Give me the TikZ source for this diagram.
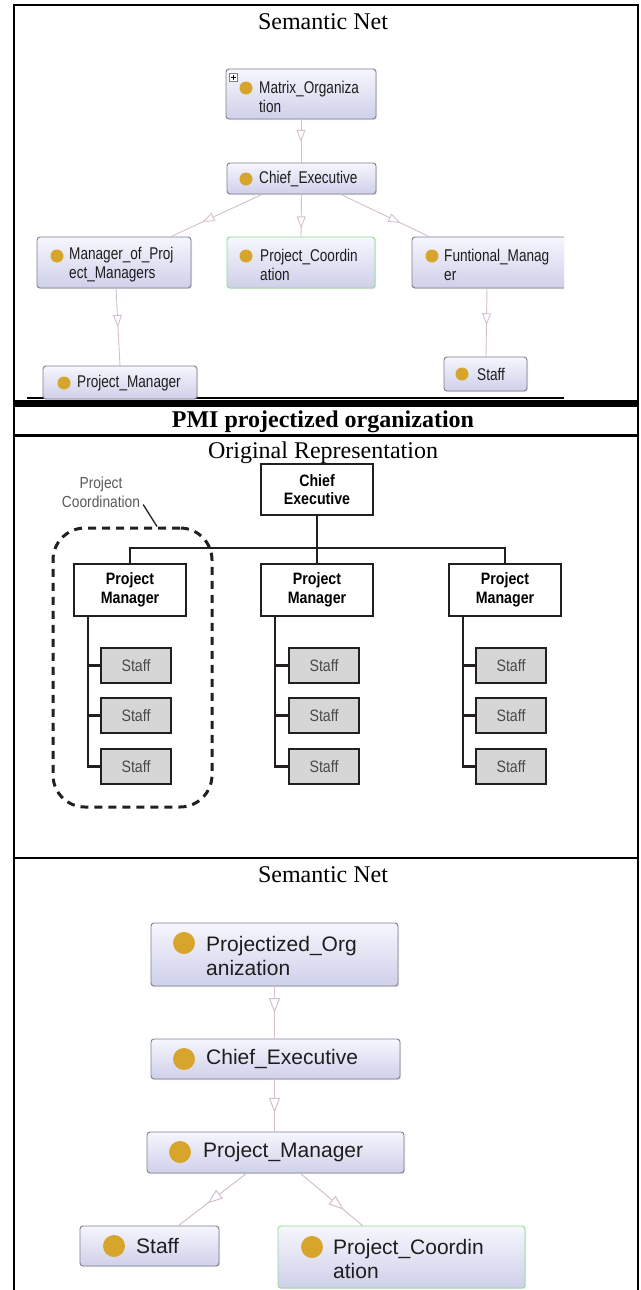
\documentclass[tikz,border=0pt]{standalone}
\usepackage{fontspec}
\setmainfont{Liberation Serif}
\newfontfamily\semsmall[FakeStretch=0.8]{Liberation Sans}
\newfontfamily\semlarge{Liberation Sans}
\newfontfamily\orgsans[FakeStretch=0.86]{Liberation Sans}
\usetikzlibrary{arrows.meta,decorations.markings,calc,shadows}

\definecolor{nodetop}{HTML}{F6F6FD}
\definecolor{nodebot}{HTML}{CFD0EA}
\definecolor{nodeedge}{HTML}{7E7E8E}
\definecolor{greenedge}{HTML}{8FDC8F}
\definecolor{dotc}{HTML}{D8A52C}
\definecolor{linkc}{HTML}{D3BFD0}
\definecolor{orgline}{HTML}{231F20}
\definecolor{staffgray}{HTML}{D6D6D6}
\definecolor{stafftext}{HTML}{4A4A4A}
\definecolor{labelgray}{HTML}{5A5A5A}
\definecolor{semtext}{HTML}{1E1E1E}

\tikzset{
  sembox/.style={rectangle, rounded corners=3pt, draw=nodeedge, line width=0.9pt,
    top color=nodetop, bottom color=nodebot, inner sep=0pt, outer sep=0pt,
    anchor=north west,
    drop shadow={shadow xshift=1pt, shadow yshift=-1.2pt, opacity=0.2}},
  greenbox/.style={draw=greenedge},
  semdot/.style={circle, fill=dotc, inner sep=0pt, outer sep=0pt},
  semtxtS/.style={anchor=west, inner sep=0pt, align=left, text=semtext,
    font=\semsmall\fontsize{17}{19}\selectfont},
  semtxtL/.style={anchor=west, inner sep=0pt, align=left, text=semtext,
    font=\semlarge\fontsize{21}{24}\selectfont},
  isa/.style={draw=linkc, line width=0.9pt, postaction={decorate},
    decoration={markings, mark=at position #1 with
      {\arrow{Triangle[length=12pt, width=9pt, line width=0.9pt, color=linkc, fill=white]}}}},
  isa/.default=0.5,
  isaL/.style={draw=linkc, line width=1pt, postaction={decorate},
    decoration={markings, mark=at position #1 with
      {\arrow{Triangle[length=15pt, width=11pt, line width=1pt, color=linkc, fill=white]}}}},
  isaL/.default=0.5,
  title/.style={anchor=base, inner sep=0pt, font=\fontsize{24}{28}\selectfont},
  orgbox/.style={rectangle, draw=orgline, line width=2.5pt, fill=white,
    minimum width=112pt, minimum height=51pt, inner sep=0pt, outer sep=0pt,
    align=center, font=\orgsans\bfseries\fontsize{16.5}{18.5}\selectfont},
  staffbox/.style={rectangle, draw=orgline, line width=2.5pt, fill=staffgray,
    minimum width=70pt, minimum height=35pt, inner sep=0pt, outer sep=0pt,
    text=stafftext, font=\orgsans\fontsize{16.5}{18}\selectfont},
  orglink/.style={draw=orgline, line width=2.2pt},
  rule/.style={draw=black, line width=2.3pt}
}

\begin{document}
\begin{tikzpicture}[x=1pt, y=-1pt]
\useasboundingbox (0,0) rectangle (640,1290);

% ---------- table frame ----------
\draw[rule, line width=2pt] (14,1290) -- (14,5) -- (637.5,5) -- (637.5,1290);
\fill[black] (14,400) rectangle (637.5,407);
\draw[black, line width=2pt] (27,398) -- (564,398);
\draw[rule] (14,435.5) -- (637.5,435.5);
\draw[rule] (14,857.8) -- (637.5,857.8);

% ---------- titles ----------
\node[title] (t1) at (323,30) {Semantic Net};
\node[title, font=\bfseries\fontsize{24}{28}\selectfont] (t2) at (323,427) {PMI projectized organization};
\node[title] (t3) at (323,458) {Original Representation};
\node[title] (t4) at (323,882) {Semantic Net};

% ---------- semantic net: matrix organization ----------
\node[sembox, minimum width=150pt, minimum height=50pt] (mo) at (226,69) {};
\node[rectangle, draw=gray, fill=white, line width=0.6pt, minimum size=8pt, inner sep=0pt] (mo-plus) at (233.5,77.5) {};
\draw[black, line width=0.8pt] ($(mo-plus.center)+(-2.5,0)$) -- ($(mo-plus.center)+(2.5,0)$)
  ($(mo-plus.center)+(0,-2.5)$) -- ($(mo-plus.center)+(0,2.5)$);
\node[semdot, minimum size=13pt] (mo-dot) at ($(mo.north west)+(20,19)$) {};
\node[semtxtS] (mo-txt) at ($(mo.west)+(33,2.5)$) {Matrix\_Organiza\\tion};

\node[sembox, minimum width=149pt, minimum height=31pt] (ce1) at (227,163) {};
\node[semdot, minimum size=13pt] (ce1-dot) at ($(ce1.north west)+(19,16)$) {};
\node[semtxtS] (ce1-txt) at ($(ce1.west)+(32,1)$) {Chief\_Executive};

\node[sembox, minimum width=154pt, minimum height=51pt] (mpm) at (37,237) {};
\node[semdot, minimum size=13pt] (mpm-dot) at ($(mpm.north west)+(20,19)$) {};
\node[semtxtS] (mpm-txt) at ($(mpm.west)+(32,2.5)$) {Manager\_of\_Proj\\ect\_Managers};

\node[sembox, greenbox, minimum width=148pt, minimum height=51pt] (pc1) at (227,237) {};
\node[semdot, minimum size=13pt] (pc1-dot) at ($(pc1.north west)+(19,19)$) {};
\node[semtxtS] (pc1-txt) at ($(pc1.west)+(33,2.5)$) {Project\_Coordin\\ation};

\begin{scope}
  \clip (0,0) rectangle (564,1290);
  \node[sembox, minimum width=175pt, minimum height=51pt] (fm) at (412,237) {};
\end{scope}
\node[semdot, minimum size=13pt] (fm-dot) at ($(fm.north west)+(20,19)$) {};
\node[semtxtS] (fm-txt) at ($(fm.west)+(32,2.5)$) {Funtional\_Manag\\er};

\node[sembox, minimum width=154pt, minimum height=33pt] (pm1) at (43,366) {};
\node[semdot, minimum size=13pt] (pm1-dot) at ($(pm1.north west)+(21,17)$) {};
\node[semtxtS] (pm1-txt) at ($(pm1.west)+(34,0.5)$) {Project\_Manager};

\node[sembox, minimum width=83pt, minimum height=34pt] (st1) at (444,357) {};
\node[semdot, minimum size=13pt] (st1-dot) at ($(st1.north west)+(18,17)$) {};
\node[semtxtS] (st1-txt) at ($(st1.west)+(33,0)$) {Staff};

\draw[isa=0.52] (mo.south) -- (mo.south |- ce1.north);
\draw[isa=0.65] ($(ce1.south west)+(36,0)$) -- ($(mpm.north east)+(-21,0)$);
\draw[isa=0.8] (ce1.south) -- (pc1.north);
\draw[isa=0.67] ($(ce1.south east)+(-36,0)$) -- ($(fm.north west)+(18,0)$);
\draw[isa=0.5] ($(mpm.south west)+(79,0)$) -- ($(pm1.north west)+(77,0)$);
\draw[isa=0.54] ($(fm.south west)+(75,0)$) -- ($(st1.north west)+(42,0)$);

% ---------- organization chart ----------
\node[orgbox] (ce2) at (317,489.5) {Chief\\Executive};
\node[orgbox, minimum height=52pt] (pmA) at (130,590) {Project\\Manager};
\node[orgbox, minimum height=52pt] (pmB) at (317,590) {Project\\Manager};
\node[orgbox, minimum height=52pt] (pmC) at (505,590) {Project\\Manager};

\coordinate (bus) at (317,548);
\draw[orglink] (ce2.south) -- (bus);
\draw[orglink] (pmA.north) |- (bus) -| (pmC.north);
\draw[orglink] (bus) -- (pmB.north);

\foreach \g/\x in {A/136, B/324, C/511} {
  \node[staffbox] (s\g1) at (\x,665.5) {Staff};
  \node[staffbox] (s\g2) at (\x,715.5) {Staff};
  \node[staffbox] (s\g3) at (\x,766.5) {Staff};
}
\foreach \g in {A,B,C} {
  \draw[orglink] ($(pm\g.south west)+(14,0)$) coordinate (trunk\g) |- (s\g3.west);
  \draw[orglink] (s\g1.west) -- (s\g1.west -| trunk\g);
  \draw[orglink] (s\g2.west) -- (s\g2.west -| trunk\g);
}

\node[draw=orgline, line width=3pt, dash pattern=on 8pt off 6pt, rounded corners=32pt,
  minimum width=159pt, minimum height=279pt, inner sep=0pt] (pcreg) at (132.5,667.5) {};
\node[align=center, inner sep=0pt, text=labelgray,
  font=\orgsans\fontsize{16}{19}\selectfont] (pcl) at (101,492) {Project\\Coordination};
\draw[orgline, line width=1.3pt] ($(pcl.south east)+(3,-3)$) -- (pcreg.north -| 157,0);

% ---------- semantic net: projectized organization ----------
\node[sembox, minimum width=247pt, minimum height=63pt] (po) at (151,923) {};
\node[semdot, minimum size=22pt] (po-dot) at ($(po.north west)+(33,20)$) {};
\node[semtxtL] (po-txt) at ($(po.west)+(55,1)$) {Projectized\_Org\\anization};

\node[sembox, minimum width=249pt, minimum height=40pt] (ce3) at (151,1039) {};
\node[semdot, minimum size=22pt] (ce3-dot) at ($(ce3.north west)+(33,20)$) {};
\node[semtxtL] (ce3-txt) at ($(ce3.west)+(55,0)$) {Chief\_Executive};

\node[sembox, minimum width=257pt, minimum height=41pt] (pm3) at (147,1132) {};
\node[semdot, minimum size=22pt] (pm3-dot) at ($(pm3.north west)+(33,20)$) {};
\node[semtxtL] (pm3-txt) at ($(pm3.west)+(56,0)$) {Project\_Manager};

\node[sembox, minimum width=139pt, minimum height=40pt] (st3) at (80,1226) {};
\node[semdot, minimum size=22pt] (st3-dot) at ($(st3.north west)+(34,20)$) {};
\node[semtxtL] (st3-txt) at ($(st3.west)+(56,0)$) {Staff};

\node[sembox, greenbox, minimum width=247pt, minimum height=62pt] (pc3) at (278,1226) {};
\node[semdot, minimum size=22pt] (pc3-dot) at ($(pc3.north west)+(34,21)$) {};
\node[semtxtL] (pc3-txt) at ($(pc3.west)+(55,1.5)$) {Project\_Coordin\\ation};

\draw[isaL=0.51] (po.south) -- (po.south |- ce3.north);
\draw[isaL=0.64] (ce3.south -| po.south) -- (pm3.north -| po.south);
\draw[isaL=0.57] ($(pm3.south west)+(100,0)$) -- ($(st3.north west)+(98,0)$);
\draw[isaL=0.69] ($(pm3.south west)+(153,0)$) -- ($(pc3.north west)+(85,0)$);
\end{tikzpicture}
\end{document}
